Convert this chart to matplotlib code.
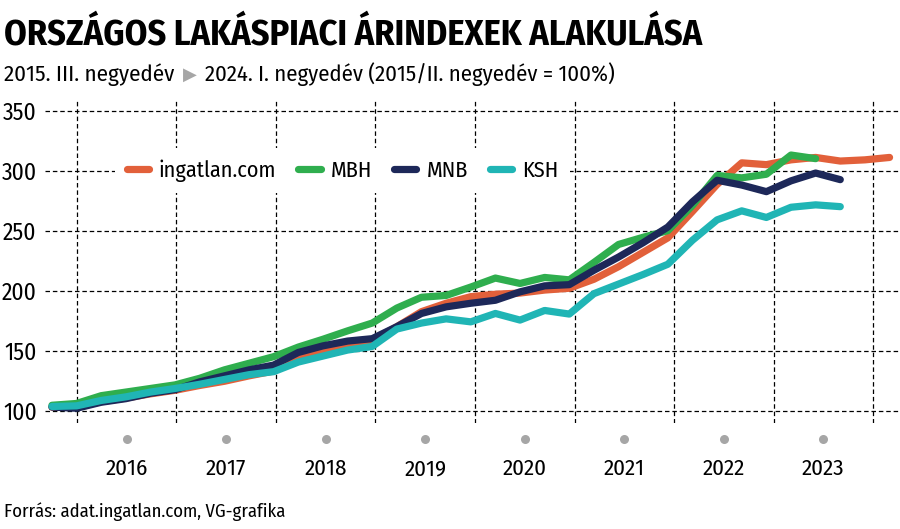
import numpy as np
import matplotlib
matplotlib.use("Agg")
import matplotlib.pyplot as plt
from matplotlib import transforms

plt.rcParams['font.family'] = ['Fira Sans Condensed', 'DejaVu Sans']

# negyedevek 2015 Q3 -> 2024 Q1
quarters = [f"{y}Q{q}" for y in range(2015, 2025) for q in range(1, 5)][2:37]

ingatlan = [103, 103, 107.5, 110.5, 114, 117, 121, 124.5, 129, 133,
            143, 148.5, 155.5, 158.5, 170, 182.5, 189.5, 195, 197, 198,
            200.5, 202, 209.5, 220, 232, 244, 266, 288.5, 306.5, 305,
            309, 311, 308, 309, 311]
mbh = [104.5, 106, 112.5, 115.5, 118.5, 121.5, 127, 134, 139.5, 145,
       153, 159.5, 166.5, 173, 185.5, 194.5, 196, 203, 210.5, 206,
       211, 209, 223.5, 238.5, 244.5, 250, 271, 296, 294, 297,
       313, 310, None, None, None]
mnb = [103, 102, 107, 110, 114.5, 117.5, 124, 129, 134, 138,
       148.5, 154, 158, 160, 170, 181, 186.5, 189.5, 192, 199,
       204, 205, 217, 228, 240, 253, 274, 292, 288, 282.5,
       291.5, 298, 292.5, None, None]
ksh = [103.5, 104, 108.5, 111.5, 115.5, 118.5, 122, 126, 130, 132.5,
       140.5, 145.5, 150.5, 153.5, 168, 173, 176.5, 174, 181, 175.5,
       183.5, 180.5, 197.5, 205.5, 213.5, 222, 242, 259, 266.5, 261,
       269.5, 271.5, 270, None, None]

years = list(range(2016, 2024))
y_ticks = [100, 150, 200, 250, 300, 350]

series = [("ingatlan.com", ingatlan, "#e2603a"),
          ("MBH", mbh, "#2fae4e"),
          ("MNB", mnb, "#1d2859"),
          ("KSH", ksh, "#20b5b5")]

# quarter step as drawn on the original
x = 2015.75 + np.arange(len(quarters)) * 0.2475

fig = plt.figure(figsize=(9, 5.29), dpi=100)
ax = fig.add_axes([0.05, 0.201, 0.95, 0.608])

for z, (name, vals, col) in enumerate(series):
    v = np.array([np.nan if a is None else a for a in vals], dtype=float)
    ax.plot(x, v, color=col, lw=5.2, label=name, zorder=3 + z,
            solid_capstyle='round', solid_joinstyle='round')

ax.set_xlim(2015.68, 2024.27)
ax.set_ylim(90, 358)
ax.set_xticks(range(2016, 2025))
ax.set_yticks(y_ticks)
ax.grid(True, color='black', lw=0.9, ls=(0, (3.6, 2.3)))
ax.tick_params(axis='x', length=0, labelbottom=False)
ax.tick_params(axis='y', length=0, pad=6, labelsize=17)
for s in ax.spines.values():
    s.set_visible(False)

leg = ax.legend(loc='center', bbox_to_anchor=(0.348, 0.7836), ncol=4,
                fontsize=16, frameon=True, handlelength=1.0,
                handletextpad=0.45, columnspacing=1.0, borderpad=0.5)
leg.get_frame().set_facecolor('white')
leg.get_frame().set_edgecolor('none')
leg.get_frame().set_alpha(1)
leg.set_zorder(10)

# evszamok es pottyok a tengely alatt
tr = transforms.blended_transform_factory(ax.transData, fig.transFigure)
for yr in years:
    ax.plot(yr + 0.5, 0.1701, 'o', color='#a6a6a6', ms=6.5, mec='none',
            transform=tr, clip_on=False)
    ax.text(yr + 0.5, 0.102, str(yr), transform=tr, ha='center',
            va='baseline', fontsize=16.5)

fig.text(0.004, 0.915, "ORSZÁGOS LAKÁSPIACI ÁRINDEXEK ALAKULÁSA",
         fontsize=26, fontweight='bold', va='baseline')

# alcim harom darabban, a nyil szurke
r = fig.canvas.get_renderer()
t1 = fig.text(0.004, 0.847, "2015. III. negyedév", fontsize=16.5, va='baseline')
bb = t1.get_window_extent(r)
t2 = fig.text((bb.x1 + 9) / 900, 0.849, "\u25B6", fontsize=13, va='baseline',
              color='#a6a6a6', family='DejaVu Sans')
bb2 = t2.get_window_extent(r)
fig.text((bb2.x1 + 8) / 900, 0.847, "2024. I. negyedév (2015/II. negyedév = 100%)",
         fontsize=16.3, va='baseline')

fig.text(0.004, 0.0227, "Forrás: adat.ingatlan.com, VG-grafika", fontsize=13.4,
         va='baseline')

fig.savefig("out.png", dpi=100)
